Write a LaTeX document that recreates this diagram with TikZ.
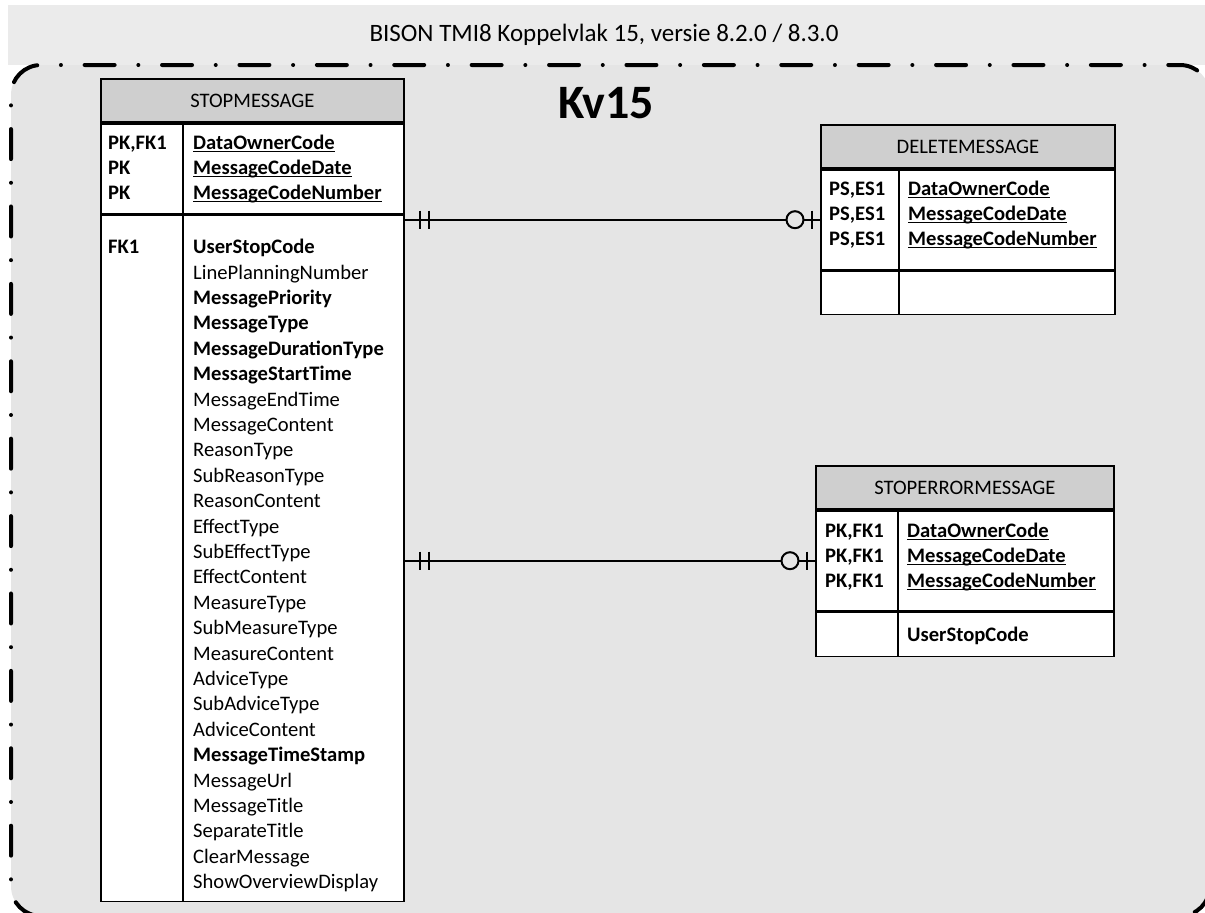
\documentclass[tikz,border=0pt]{standalone}
\usepackage{fontspec}
\setmainfont{Carlito}
\usetikzlibrary{calc, %for relative coord calculations
                positioning}

\definecolor{bandgray}{RGB}{235,235,235}
\definecolor{framegray}{RGB}{229,229,229}
\definecolor{headgray}{RGB}{207,207,207}

\newcommand{\keyfield}[1]{\underline{\smash{\textbf{#1}}}}

\begin{document}
\begin{tikzpicture}[x=1bp, y=-1bp,
                    every node/.style={font=\fontsize{20.6bp}{25.4bp}\selectfont},
                    tblhead/.style={draw, line width=1.8bp, fill=headgray, inner sep=0, anchor=north west, minimum height=43bp},
                    tblbox/.style={draw, line width=1.8bp, fill=white, inner sep=0},
                    tblline/.style={line width=1.8bp},
                    celltxt/.style={anchor=base west, inner sep=0},
                    frameline/.style={line width=4bp, line cap=round, rounded corners=30bp,
                                      dash pattern=on 30bp off 23.7bp on 0bp off 23.7bp, dash phase=0bp},
                    relline/.style={line width=2bp},
                    relmark/.style={line width=2bp}
                    ]
    \useasboundingbox (0,0) rectangle (1205,913);
    \fill[white] (0,0) rectangle (1205,913);
    %background band and frame
    \fill[bandgray] (8,5) rectangle (1205,65);
    \fill[framegray, rounded corners=30bp] (11,65) rectangle (1210,916);
    \draw[frameline] (41,916) -- (11,916) -- (11,65) -- (1210,65) -- (1210,916) -- (41,916);

    \node[font=\fontsize{25bp}{30bp}\selectfont] (title) at (604,35) {BISON TMI8 Koppelvlak 15, versie 8.2.0 / 8.3.0};
    \node[font=\fontsize{48bp}{57bp}\selectfont\bfseries] (kv) at (606,103) {Kv15};

    %STOPMESSAGE
    \node[tblhead, minimum width=303bp] (smHead) at (100,78) {STOPMESSAGE};
    \node[tblbox, minimum width=303bp, minimum height=90bp, below=0pt of smHead] (smKeys) {};
    \node[tblbox, minimum width=303bp, minimum height=686bp, below=0pt of smKeys] (smAttrs) {};
    \draw[tblline] ($(smKeys.north west)+(83,0)$) -- ($(smAttrs.south west)+(83,0)$);
    \foreach \k/\f [count=\i from 0] in {{PK,FK1}/DataOwnerCode, PK/MessageCodeDate, PK/MessageCodeNumber}{
        \node[celltxt] (smK\i) at ($(smKeys.north west)+(8,{27+25*\i})$) {\textbf{\k}};
        \node[celltxt] (smP\i) at ($(smKeys.north west)+(93,{27+25*\i})$) {\keyfield{\f}};
    }
    \node[celltxt] (smFK) at ($(smAttrs.north west)+(8,39)$) {\textbf{FK1}};
    \foreach \f [count=\i from 0] in {\textbf{UserStopCode}, LinePlanningNumber, \textbf{MessagePriority},
            \textbf{MessageType}, \textbf{MessageDurationType}, \textbf{MessageStartTime}, MessageEndTime,
            MessageContent, ReasonType, SubReasonType, ReasonContent, EffectType, SubEffectType,
            EffectContent, MeasureType, SubMeasureType, MeasureContent, AdviceType, SubAdviceType,
            AdviceContent, \textbf{MessageTimeStamp}, MessageUrl, MessageTitle, SeparateTitle,
            ClearMessage, ShowOverviewDisplay}
        \node[celltxt] (smF\i) at ($(smAttrs.north west)+(93,{39+25.4*\i})$) {\f};

    %DELETEMESSAGE
    \node[tblhead, minimum width=294bp] (delHead) at (820,124) {DELETEMESSAGE};
    \node[tblbox, minimum width=294bp, minimum height=100bp, below=0pt of delHead] (delKeys) {};
    \node[tblbox, minimum width=294bp, minimum height=43bp, below=0pt of delKeys] (delAttrs) {};
    \draw[tblline] ($(delKeys.north west)+(79,0)$) -- ($(delAttrs.south west)+(79,0)$);
    \foreach \f [count=\i from 0] in {DataOwnerCode, MessageCodeDate, MessageCodeNumber}{
        \node[celltxt] (delK\i) at ($(delKeys.north west)+(9,{27+25*\i})$) {\textbf{PS,ES1}};
        \node[celltxt] (delP\i) at ($(delKeys.north west)+(88,{27+25*\i})$) {\keyfield{\f}};
    }

    %STOPERRORMESSAGE
    \node[tblhead, minimum width=298bp] (errHead) at (815,465) {STOPERRORMESSAGE};
    \node[tblbox, minimum width=298bp, minimum height=100bp, below=0pt of errHead] (errKeys) {};
    \node[tblbox, minimum width=298bp, minimum height=44bp, below=0pt of errKeys] (errAttrs) {};
    \draw[tblline] ($(errKeys.north west)+(83,0)$) -- ($(errAttrs.south west)+(83,0)$);
    \foreach \f [count=\i from 0] in {DataOwnerCode, MessageCodeDate, MessageCodeNumber}{
        \node[celltxt] (errK\i) at ($(errKeys.north west)+(10,{28+25*\i})$) {\textbf{PK,FK1}};
        \node[celltxt] (errP\i) at ($(errKeys.north west)+(92,{28+25*\i})$) {\keyfield{\f}};
    }
    \node[celltxt] (errF0) at ($(errAttrs.north west)+(92,30)$) {\textbf{UserStopCode}};

    %relations: one and only one -- zero or one
    \foreach \tgt in {delKeys, errKeys}{
        \coordinate (from) at (smAttrs.east |- \tgt.west);
        \draw[relline] (from) -- (\tgt.west);
        \draw[relmark] ($(from)+(15,-9)$) -- ($(from)+(15,9)$);
        \draw[relmark] ($(from)+(24,-9)$) -- ($(from)+(24,9)$);
        \draw[relmark] ($(\tgt.west)+(-8,-9)$) -- ($(\tgt.west)+(-8,9)$);
        \draw[relmark, fill=framegray] ($(\tgt.west)+(-25,0)$) circle[radius=8.5];
    }
\end{tikzpicture}
\end{document}
